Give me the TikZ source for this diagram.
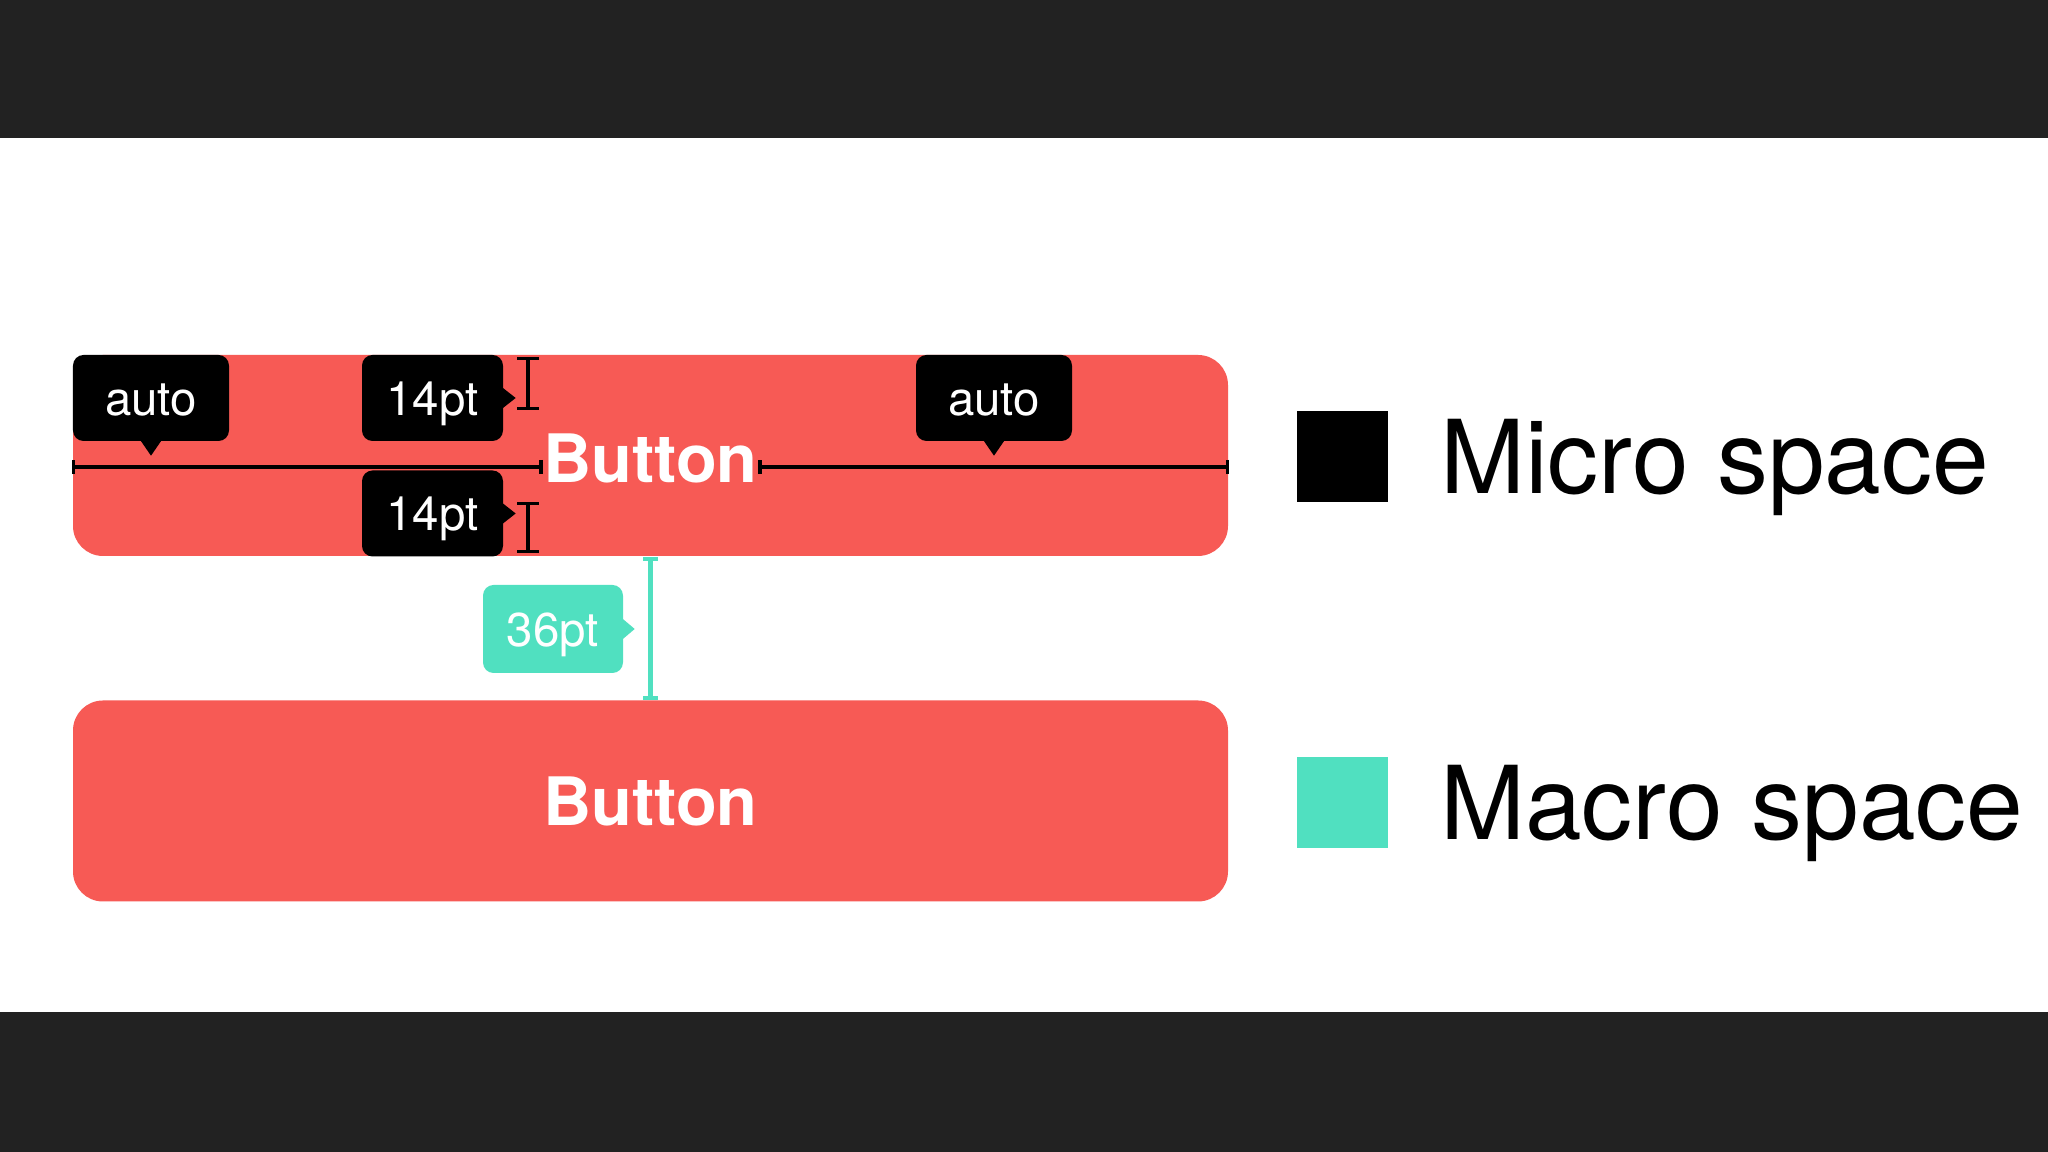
\documentclass[tikz,border=0pt]{standalone}
\usepackage{fontspec}
\setmainfont{TeX Gyre Heros}
\usetikzlibrary{arrows.meta,positioning}
\definecolor{coral}{HTML}{F75A55}
\definecolor{mint}{HTML}{50E0C0}
\definecolor{band}{HTML}{222222}
\begin{document}
\begin{tikzpicture}
            [btn/.style ={fill=coral,rounded corners=0.3cm,minimum width=11.55cm,minimum height=2.01cm},
             btntext/.style ={inner sep=0pt,text=white,font=\bfseries\fontsize{19pt}{23pt}\selectfont,text height=13.7pt,text depth=0pt},
             tag/.style ={fill=black,text=white,rounded corners=3pt,minimum width=1.56cm,minimum height=0.86cm,inner sep=0pt,
                          font=\fontsize{13.5pt}{16pt}\selectfont,text height=9.7pt,text depth=0pt},
             swatch/.style ={minimum size=0.91cm,inner sep=0pt},
             legend/.style ={inner sep=0pt,font=\fontsize{29pt}{34pt}\selectfont,text height=20.9pt,text depth=0pt},
             span/.style ={line width=0.9pt,{Bar[width=6pt]}-{Bar[width=6pt]}}]
            \fill[band] (0,0) rectangle (20.48,11.52);
            \fill[white] (0,1.40) rectangle (20.48,10.14);
            \node[btn] (b1) at (6.505,6.965) {};
            \node[btn] (b2) at (6.505,3.51) {};
            \node[btntext] (t1) at (6.505,6.94) {Button};
            \node[btntext] (t2) at (b2) {Button};
            \coordinate (hl) at (0,6.85);
            \draw[span,{Bar[width=4pt]}-{Bar[width=4pt]}] (b1.west |- hl) to (t1.west |- hl);
            \draw[span,{Bar[width=4pt]}-{Bar[width=4pt]}] (t1.east |- hl) to (b1.east |- hl);
            \node[tag] (a1) at (1.51,7.54) {auto};
            \node[tag,minimum width=1.41cm] (p1) at (4.325,7.54) {14pt};
            \node[tag,minimum width=1.41cm] (p2) at (4.325,6.385) {14pt};
            \node[tag] (a2) at (9.94,7.54) {auto};
            \node[tag,fill=mint,minimum width=1.40cm,minimum height=0.88cm] (g) at (5.53,5.23) {36pt};
            \foreach \n in {a1,a2} \fill (\n.south) ++(-0.11,0.02) -- ++(0.11,-0.16) -- ++(0.11,0.16) -- cycle;
            \foreach \n in {p1,p2} \fill (\n.east) ++(-0.02,0.11) -- ++(0.14,-0.11) -- ++(-0.14,-0.11) -- cycle;
            \fill[mint] (g.east) ++(-0.02,0.11) -- ++(0.13,-0.11) -- ++(-0.13,-0.11) -- cycle;
            \coordinate (i1) at (5.28,7.95);
            \coordinate (i2) at (5.28,7.42);
            \coordinate (i3) at (5.28,6.50);
            \coordinate (i4) at (5.28,5.99);
            \draw[span] (i1) to (i2);
            \draw[span] (i3) to (i4);
            \draw[span,mint,line width=1.2pt,{Bar[width=4pt]}-{Bar[width=4pt]}] (b1.south) to (b2.north);
            \node[swatch,fill=black] (s1) at (13.425,6.95) {};
            \node[swatch,fill=mint] (s2) at (13.425,3.49) {};
            \node[legend,right=0.51cm of s1] (l1) {Micro space};
            \node[legend,right=0.51cm of s2] (l2) {Macro space};
        \end{tikzpicture}
\end{document}
